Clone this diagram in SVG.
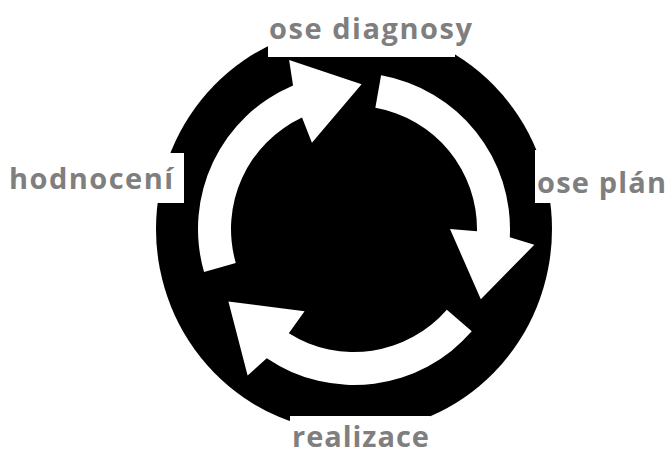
<svg xmlns="http://www.w3.org/2000/svg" width="669" height="452" viewBox="0 0 669 452">
  <defs>
    <style>
      .disc { fill: #000000; }
      .box { fill: #ffffff; }
      .arrow { fill: #ffffff; }
      .label { font-family: "Open Sans", "Liberation Sans", sans-serif; font-weight: 700; font-size: 29px; fill: #7f7f7f; }
    </style>
    <!-- one curved arrow: tail at angle 0, sweeping clockwise, head near 109 degrees -->
    <path id="cycle-arrow" class="arrow"
          d="M156,0 A156,156 0 0 1 19.01,154.84 L15.78,180.31 L-47.21,137.10 L16.67,94.54 L19.24,121.49 A123,123 0 0 0 123,0 Z"/>
  </defs>

  <rect width="669" height="452" fill="#ffffff"/>

  <!-- black disc behind the cycle -->
  <g id="disc">
    <ellipse class="disc" cx="354" cy="229" rx="198" ry="203"/>
  </g>

  <!-- the three white cycle arrows -->
  <g id="connectors">
    <use href="#cycle-arrow" transform="translate(354,229) rotate(164)"/>
    <use href="#cycle-arrow" transform="translate(354,229) rotate(280)"/>
    <use href="#cycle-arrow" transform="translate(354,229) rotate(41)"/>
  </g>

  <g id="node-diagnosy">
    <rect class="box" x="268" y="0" width="187" height="57"/>
    <text class="label" x="269" y="39" textLength="203" lengthAdjust="spacing">ose diagnosy</text>
  </g>

  <g id="node-plan">
    <rect class="box" x="535" y="150" width="134" height="53"/>
    <text class="label" x="537" y="193" textLength="129" lengthAdjust="spacing">ose plán</text>
  </g>

  <g id="node-realizace">
    <rect class="box" x="290" y="416" width="140" height="36"/>
    <text class="label" x="292" y="447" textLength="137" lengthAdjust="spacing">realizace</text>
  </g>

  <g id="node-hodnoceni">
    <rect class="box" x="0" y="153" width="184" height="50"/>
    <text class="label" x="9" y="189" textLength="164" lengthAdjust="spacing">hodnocení</text>
  </g>
</svg>
